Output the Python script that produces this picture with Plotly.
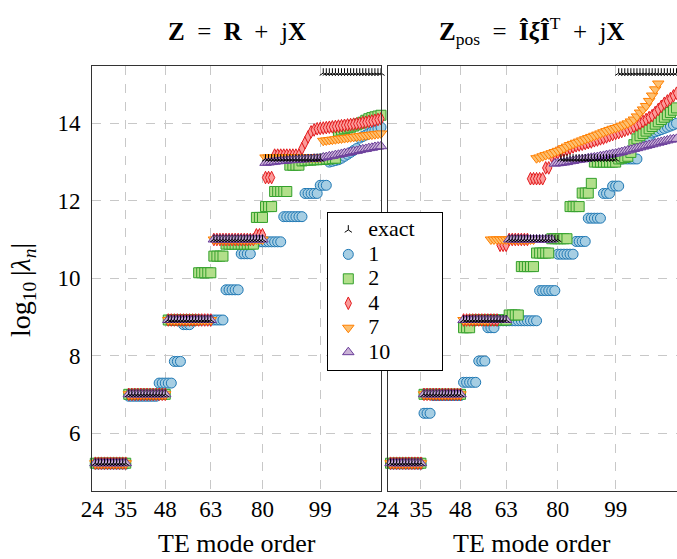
import plotly.graph_objects as go

# ---------------- data ----------------
modes = list(range(25, 121))          # TE mode order n
x_ticks = [24, 35, 48, 63, 80, 99]
y_ticks = [6, 8, 10, 12, 14]
legend_names = ["exact", "1", "2", "4", "7", "10"]

exact = [5.22]*11 + [7.00]*13 + [8.92]*15 + [11.00]*17 + [13.08]*19 + [15.30]*21

# Left panel: Z = R + jX
left_1 = ([5.20]*11 + [6.95]*10 + [7.29]*5 + [7.85]*3 + [8.80]*3 + [8.92]*11 + [9.70]*5
          + [10.63]*4 + [10.94]*10 + [11.59]*7 + [12.19]*5 + [12.40]*3
          + [13.00, 13.02, 13.04, 13.06, 13.10, 13.15, 13.20, 13.25, 13.30, 13.35]
          + [13.62, 13.66, 13.70, 13.74, 13.78, 13.82, 13.86, 13.90, 13.95])
left_2 = ([5.22]*11 + [7.00]*13 + [8.92]*10 + [10.14]*5 + [10.57]*4 + [10.88]*10 + [11.57]*3
          + [11.85]*3 + [12.24]*5 + [12.92]*4
          + [13.03, 13.04, 13.05, 13.05, 13.06, 13.06, 13.07, 13.07, 13.08, 13.08, 13.09, 13.10]
          + [13.80, 13.83, 13.86, 13.88, 13.90, 13.93, 13.96, 13.99, 14.03, 14.08, 14.12, 14.15,
             14.17, 14.19, 14.21, 14.22])
left_4 = ([5.22]*11 + [7.00]*13 + [8.92]*15 + [11.00]*14 + [11.12]*3 + [12.60]*3 + [13.18]*9
          + [13.35, 13.50, 13.65]
          + [13.78, 13.83, 13.86, 13.87, 13.88, 13.89, 13.90, 13.91, 13.92, 13.93, 13.94, 13.95,
             13.96, 13.97, 13.98, 13.99, 14.00, 14.02, 14.03, 14.05, 14.06, 14.08, 14.10, 14.12, 14.14])
left_7 = ([5.22]*11 + [7.00]*13 + [8.92]*15 + [11.00]*17 + [13.12]*19
          + [13.55, 13.56, 13.57, 13.58, 13.59, 13.60, 13.61, 13.62, 13.63, 13.64, 13.65, 13.66,
             13.67, 13.68, 13.69, 13.70, 13.71, 13.72, 13.73, 13.74, 13.75])
left_10 = ([5.22]*11 + [7.00]*13 + [8.92]*15 + [11.00]*17
           + [12.98, 12.99, 13.00, 13.01, 13.02, 13.03, 13.03, 13.04, 13.05, 13.05, 13.06, 13.06,
              13.07, 13.07, 13.08, 13.08, 13.09, 13.09, 13.10]
           + [13.12, 13.13, 13.15, 13.16, 13.18, 13.19, 13.21, 13.23, 13.24, 13.26, 13.28, 13.29,
              13.31, 13.33, 13.34, 13.36, 13.37, 13.39, 13.40, 13.41, 13.43])

# Right panel: Z_pos
right_1 = ([5.20]*11 + [6.51]*3 + [6.97]*10 + [7.31]*5 + [7.86]*3 + [8.72]*3 + [8.90]*14
           + [9.68]*6 + [10.62]*6 + [10.95]*4 + [11.55]*5 + [12.19]*3 + [12.38]*3 + [13.08]*6
           + [13.59]*4
           + [13.75, 13.78, 13.81, 13.84, 13.87, 13.90, 13.93, 13.96, 14.00, 14.04])
right_2 = ([5.22]*11 + [7.00]*13 + [8.72]*3 + [8.92]*12 + [9.05]*4 + [10.30]*5 + [10.65]*5
           + [11.02]*6 + [11.85]*4 + [12.20]*3 + [12.45] + [13.00]*8
           + [13.08, 13.10, 13.12, 13.15, 13.25, 13.45, 13.60, 13.68, 13.74, 13.80, 13.86, 13.92,
              13.98, 14.04, 14.10, 14.16, 14.22, 14.28, 14.34, 14.40, 14.45])
right_4 = ([5.22]*11 + [7.00]*13 + [8.92]*12 + [10.85]*3 + [11.00]*7 + [12.57]*5 + [12.85]*2
           + [13.15, 13.20, 13.24, 13.27, 13.30, 13.33, 13.36, 13.39, 13.42, 13.44, 13.46, 13.48,
              13.50, 13.52, 13.55, 13.57, 13.60, 13.62, 13.65, 13.68, 13.71, 13.74, 13.76, 13.79,
              13.82, 13.85, 13.88, 13.92, 13.96, 14.00, 14.05, 14.10, 14.15, 14.20, 14.28, 14.36,
              14.44, 14.52, 14.58, 14.64, 14.71, 14.78, 14.86])
right_7 = ([5.22]*11 + [7.00]*13 + [8.92]*9 + [11.00]*15
           + [13.10, 13.12, 13.15, 13.18, 13.20, 13.23, 13.26, 13.29, 13.32, 13.36, 13.40, 13.44,
              13.47, 13.50, 13.53, 13.56, 13.59, 13.62, 13.65, 13.68, 13.71, 13.74, 13.77, 13.80,
              13.83, 13.86, 13.88, 13.91, 13.94, 13.97, 14.00, 14.05, 14.10, 14.18, 14.28, 14.36,
              14.45, 14.58, 14.72, 14.88, 15.03])
right_10 = ([5.22]*11 + [7.00]*13 + [8.92]*15 + [11.00]*15
            + [12.96, 12.97, 12.98, 12.99, 13.00, 13.02, 13.03, 13.05, 13.06, 13.07, 13.08, 13.10,
               13.11, 13.12, 13.13, 13.15, 13.16, 13.18, 13.19, 13.21, 13.22, 13.24, 13.26, 13.28,
               13.30, 13.32, 13.34, 13.36, 13.38, 13.40, 13.42, 13.44, 13.46, 13.48, 13.50, 13.52,
               13.54, 13.56, 13.58, 13.59, 13.60, 13.62])

# ---------------- styles ----------------
W, H = 677, 559
SERIF = "Liberation Serif"
styles = {
    "1":  dict(symbol="circle", size=10, color="#a6cee3", line=dict(color="#1f78b4", width=1)),
    "2":  dict(symbol="square", size=10, color="#b2df8a", line=dict(color="#33a02c", width=1)),
    "4":  dict(symbol="diamond-tall", size=9, color="#fb9a99", line=dict(color="#e31a1c", width=1)),
    "7":  dict(symbol="triangle-down", size=10, color="#fdbf6f", line=dict(color="#ff7f00", width=1)),
    "10": dict(symbol="triangle-up", size=10, color="#cab2d6", line=dict(color="#6a3d9a", width=1)),
}
exact_style = dict(symbol="y-up", size=6, color="black", line=dict(color="black", width=1))


def legend_label(name):
    pad = "\u2002\u2002" if name == "exact" else ""
    return f'<span style="font-size:22px">{name}{pad}</span>'


fig = go.Figure()

panels = [
    ("x", "y", {"1": left_1, "2": left_2, "4": left_4, "7": left_7, "10": left_10}, True),
    ("x2", "y2", {"1": right_1, "2": right_2, "4": right_4, "7": right_7, "10": right_10}, False),
]
for xa, ya, series, show in panels:
    for rank, name in enumerate(legend_names[1:], start=2):
        vals = series[name]
        fig.add_trace(go.Scatter(
            x=modes[:len(vals)], y=vals, mode="markers", name=legend_label(name),
            marker=styles[name], xaxis=xa, yaxis=ya, cliponaxis=False,
            showlegend=show, legendgroup=name, legendrank=rank, hoverinfo="skip"))
    fig.add_trace(go.Scatter(
        x=modes, y=exact, mode="markers", name=legend_label(legend_names[0]), marker=exact_style,
        xaxis=xa, yaxis=ya, cliponaxis=False, showlegend=show,
        legendgroup="exact", legendrank=1, hoverinfo="skip"))

# ---------------- layout ----------------
x_left = (92.3, 381.0)
x_right = (387.5, 676.5)
y_top, y_bot = 65.7, 490.7
ydom = [1 - y_bot / H, 1 - y_top / H]

axis_common = dict(showgrid=True, gridcolor="#c8c8c8", gridwidth=1, griddash="dash",
                   showline=True, linecolor="#333333", linewidth=1.3, mirror=True,
                   zeroline=False, ticks="", automargin=False,
                   tickfont=dict(family=SERIF, size=23, color="black"))

fig.update_layout(
    width=W, height=H, autosize=False,
    margin=dict(l=0, r=0, t=0, b=0, pad=0),
    paper_bgcolor="white", plot_bgcolor="white",
    xaxis=dict(domain=[x_left[0] / W, x_left[1] / W], anchor="y", range=[24, 119],
               tickvals=x_ticks, ticklabelstandoff=-2, **axis_common),
    xaxis2=dict(domain=[x_right[0] / W, x_right[1] / W], anchor="y2", range=[24, 119],
                tickvals=x_ticks, ticklabelstandoff=-2, **axis_common),
    yaxis=dict(domain=ydom, anchor="x", range=[4.51, 15.49], tickvals=y_ticks,
               ticklabelstandoff=6, **axis_common),
    yaxis2=dict(domain=ydom, anchor="x2", range=[4.51, 15.49], tickvals=y_ticks,
                showticklabels=False, **axis_common),
    legend=dict(x=327.3 / W, y=1 - 211.7 / H, xanchor="left", yanchor="top",
                bgcolor="white", bordercolor="black", borderwidth=1,
                font=dict(family=SERIF, size=16.5, color="black"),
                traceorder="normal", itemsizing="trace"),
    showlegend=True,
)

sp = "\u2002"
ann = [
    dict(text=f"<b>Z</b>{sp}={sp}<b>R</b>{sp}+{sp}j<b>X</b>",
         x=sum(x_left) / 2 / W, y=1 - 31 / H, size=25, angle=0),
    dict(text=f"<b>Z</b><sub>pos</sub>{sp}={sp}<b>Î</b><b><i>ξ</i></b><b>Î</b><sup>T</sup>{sp}+{sp}j<b>X</b>",
         x=sum(x_right) / 2 / W, y=1 - 31 / H, size=25, angle=0),
    dict(text="TE mode order", x=sum(x_left) / 2 / W, y=1 - 543 / H, size=26, angle=0),
    dict(text="TE mode order", x=sum(x_right) / 2 / W, y=1 - 543 / H, size=26, angle=0),
    dict(text="log<sub>10</sub>\u2009|<i>λ<sub>n</sub></i>|", x=22 / W, y=1 - 290 / H,
         size=28, angle=-90),
]
for a in ann:
    fig.add_annotation(text=a["text"], x=a["x"], y=a["y"], xref="paper", yref="paper",
                       xanchor="center", yanchor="middle", showarrow=False, textangle=a["angle"],
                       font=dict(family=SERIF, size=a["size"], color="black"))

fig.write_html("out.html", config={"displayModeBar": False},
               post_script="document.body.style.margin='0px';")
